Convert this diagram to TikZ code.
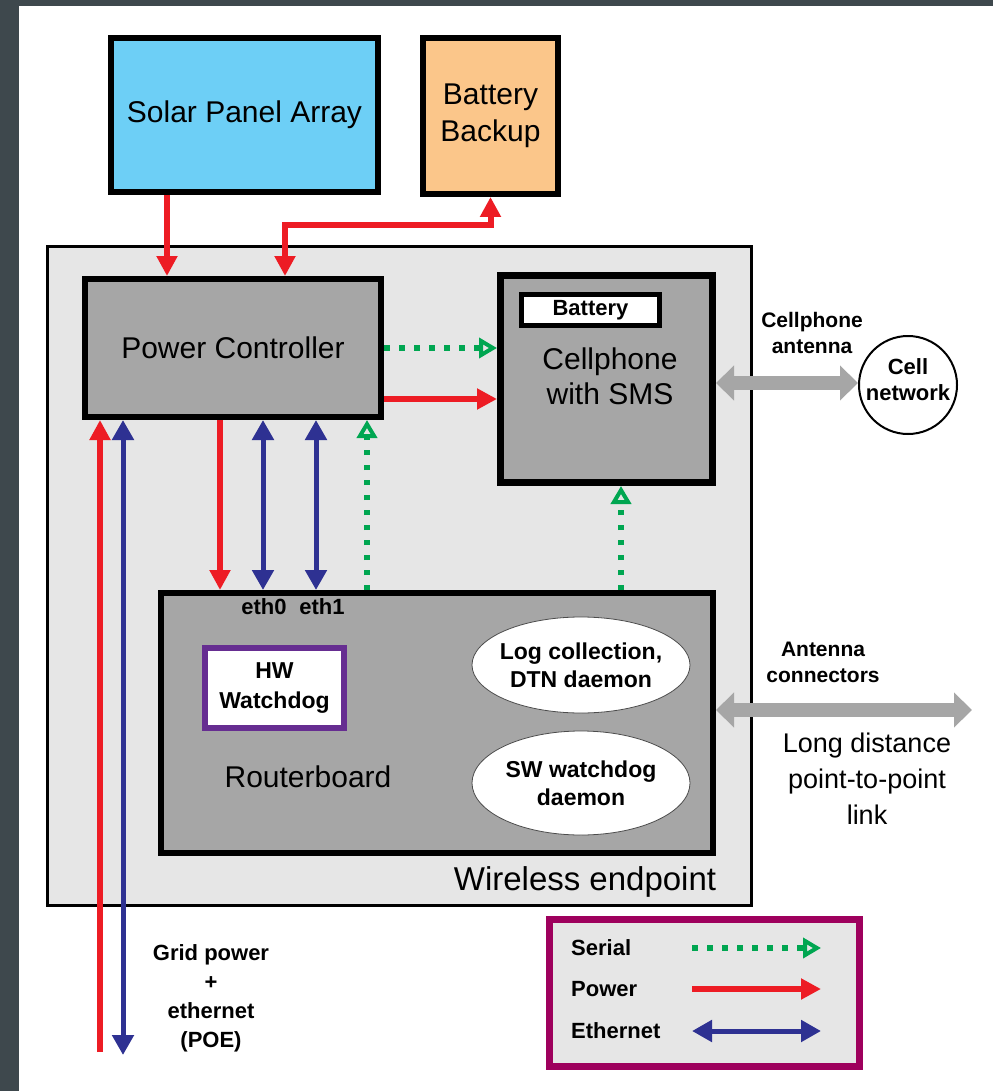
\documentclass[tikz,border=0pt]{standalone}
\usepackage{fontspec}
\setmainfont{Liberation Sans}
\usepackage{xcolor}
\usepackage{tikz}
\usetikzlibrary{arrows.meta,shapes.geometric}
\definecolor{frameSlate}{HTML}{3E484D}
\definecolor{solarBlue}{HTML}{6DCFF6}
\definecolor{backupOrange}{HTML}{FBC68A}
\definecolor{endpointGray}{HTML}{E6E6E6}
\definecolor{boardGray}{HTML}{A6A6A6}
\definecolor{powerRed}{HTML}{ED1C24}
\definecolor{etherBlue}{HTML}{2E3192}
\definecolor{serialGreen}{HTML}{00A651}
\definecolor{watchPurple}{HTML}{662D91}
\definecolor{keyMagenta}{HTML}{9E005D}
\definecolor{radioGray}{HTML}{A6A6A6}

\begin{document}
\begin{tikzpicture}[x=1pt, y=-1pt,
    bigtext/.style={font=\fontsize{30}{37}\selectfont, align=center},
    tag/.style={font=\bfseries\fontsize{22}{28}\selectfont, align=center, inner sep=1pt},
    block/.style={draw=black, line width=6pt, inner sep=0pt},
    daemon/.style={ellipse, draw=black!70, line width=0.8pt, fill=white, minimum width=218pt},
    power/.style={powerRed, line width=6pt, -{Triangle[length=20pt,width=20pt]}},
    ether/.style={etherBlue, line width=5pt, {Triangle[length=20pt,width=21pt]}-{Triangle[length=20pt,width=21pt]}},
    serial/.style={serialGreen, line width=5.5pt, dash pattern=on 5.5pt off 9.5pt,
        -{Triangle[open,length=18pt,width=20pt,line width=4pt]}},
    radio/.style={radioGray, line width=14pt, {Triangle[length=18pt,width=34pt]}-{Triangle[length=18pt,width=34pt]}}]

        % frame
        \fill[frameSlate] (0,0) rectangle (993,1091);
        \fill[white] (19,6) rectangle (993,1091);
        \useasboundingbox (0,0) rectangle (993,1091);

        % wireless endpoint
        \node[draw=black, line width=3pt, fill=endpointGray, inner sep=0pt,
              minimum width=704pt, minimum height=659pt] (endpoint) at (399.5,576) {};
        \node[font=\fontsize{33}{38}\selectfont] (endlbl) at (585,882) {Wireless endpoint};

        % sources
        \node[block, fill=solarBlue, minimum width=267pt, minimum height=154pt, bigtext] (solar) at (244.5,115) {Solar Panel Array};
        \node[block, fill=backupOrange, minimum width=135pt, minimum height=156pt, bigtext] (backup) at (490.5,116) {Battery\\Backup};

        % power controller and cellphone
        \node[block, fill=boardGray, minimum width=296pt, minimum height=138pt, bigtext] (pc) at (233,348) {Power Controller};
        \node[block, line width=7pt, fill=boardGray, minimum width=212pt, minimum height=207pt] (cell) at (606.5,379) {};
        \node[bigtext, font=\fontsize{30}{35}\selectfont] (celltxt) at (610,376) {Cellphone\\with SMS};
        \node[block, line width=5pt, fill=white, minimum width=138pt, minimum height=31pt, tag] (cellbat) at (590.5,310) {Battery};
        \node[circle, draw=black, line width=2pt, fill=white, minimum size=98pt] (net) at (908,385) {};
        \node[tag, font=\bfseries\fontsize{22}{26}\selectfont] (nettxt) at (908,380) {Cell\\network};

        % routerboard
        \node[block, fill=boardGray, minimum width=552pt, minimum height=260pt] (router) at (437,723) {};
        \node[bigtext] (routerlbl) at (308,777) {Routerboard};
        \node[block, draw=watchPurple, fill=white, minimum width=139pt, minimum height=80pt, tag,
              font=\bfseries\fontsize{23}{30}\selectfont] (hwdog) at (274.5,688) {HW\\Watchdog};
        \node[daemon, minimum height=96pt] (logd) at (581,665) {};
        \node[tag, font=\bfseries\fontsize{23}{28}\selectfont] (logtxt) at (581,665) {Log collection,\\DTN daemon};
        \node[daemon, minimum height=104pt] (swdog) at (581,783) {};
        \node[tag, font=\bfseries\fontsize{23}{28}\selectfont] (swtxt) at (581,783) {SW watchdog\\daemon};
        \node[tag] (eth0) at (264,607) {eth0};
        \node[tag] (eth1) at (322,607) {eth1};

        % supply lines
        \coordinate (xsol) at (167,0);
        \coordinate (xbat) at (285,0);
        \draw[power] (solar.south -| xsol) -- (pc.north -| xsol);
        \draw[power, {Triangle[length=20pt,width=20pt]}-{Triangle[length=20pt,width=20pt]}]
            (pc.north -| xbat) -- ++(0,-51) -| (backup.south);

        % controller to cellphone
        \coordinate (ycp) at (0,399);
        \draw[serial] (pc.east) -- (pc.east -| cell.west);
        \draw[power] (pc.east |- ycp) -- (cell.west |- ycp);

        % grid feed (POE)
        \coordinate (gridp) at (100,1052);
        \coordinate (gride) at (123,1055);
        \draw[power] (gridp) -- (gridp |- pc.south);
        \draw[ether] (gride |- pc.south) -- (gride);
        \node[tag, font=\bfseries\fontsize{22}{29}\selectfont] (gridlbl) at (211,998) {Grid power\\+\\ethernet\\(POE)};

        % controller to routerboard
        \coordinate (xrp) at (220,0);
        \coordinate (xe0) at (263,0);
        \coordinate (xe1) at (316,0);
        \coordinate (xrs) at (367,0);
        \coordinate (xcs) at (621,0);
        \draw[power] (pc.south -| xrp) -- (router.north -| xrp);
        \foreach \e in {xe0,xe1} {
            \draw[ether] (pc.south -| \e) -- (router.north -| \e);
        }
        \draw[serial] (router.north -| xrs) -- (pc.south -| xrs);
        \draw[serial] (router.north -| xcs) -- (cell.south -| xcs);

        % antennas
        \coordinate (ycant) at (0,383);
        \coordinate (linkend) at (972,710);
        \draw[radio] (cell.east |- ycant) -- (net.west |- ycant);
        \node[tag, font=\bfseries\fontsize{21}{26}\selectfont] (cantlbl) at (812,333) {Cellphone\\antenna};
        \draw[radio] (router.east |- linkend) -- (linkend);
        \node[tag, font=\bfseries\fontsize{21}{26}\selectfont] (antlbl) at (823,662) {Antenna\\connectors};
        \node[font=\fontsize{27}{36}\selectfont, align=center] (linklbl) at (867,779) {Long distance\\point-to-point\\link};

        % key
        \node[draw=keyMagenta, line width=7pt, fill=endpointGray, inner sep=0pt,
              minimum width=310pt, minimum height=147pt] (legend) at (704.5,993) {};
        \coordinate (kx1) at (692,0);
        \coordinate (kx2) at (821,0);
        \node[tag, anchor=west] (kser) at (570,948) {Serial};
        \node[tag, anchor=west] (kpow) at (570,989) {Power};
        \node[tag, anchor=west] (keth) at (570,1031) {Ethernet};
        \draw[serial] (kser -| kx1) -- (kser -| kx2);
        \draw[power] (kpow -| kx1) -- (kpow -| kx2);
        \draw[ether] (keth -| kx1) -- (keth -| kx2);
    \end{tikzpicture}
\end{document}
